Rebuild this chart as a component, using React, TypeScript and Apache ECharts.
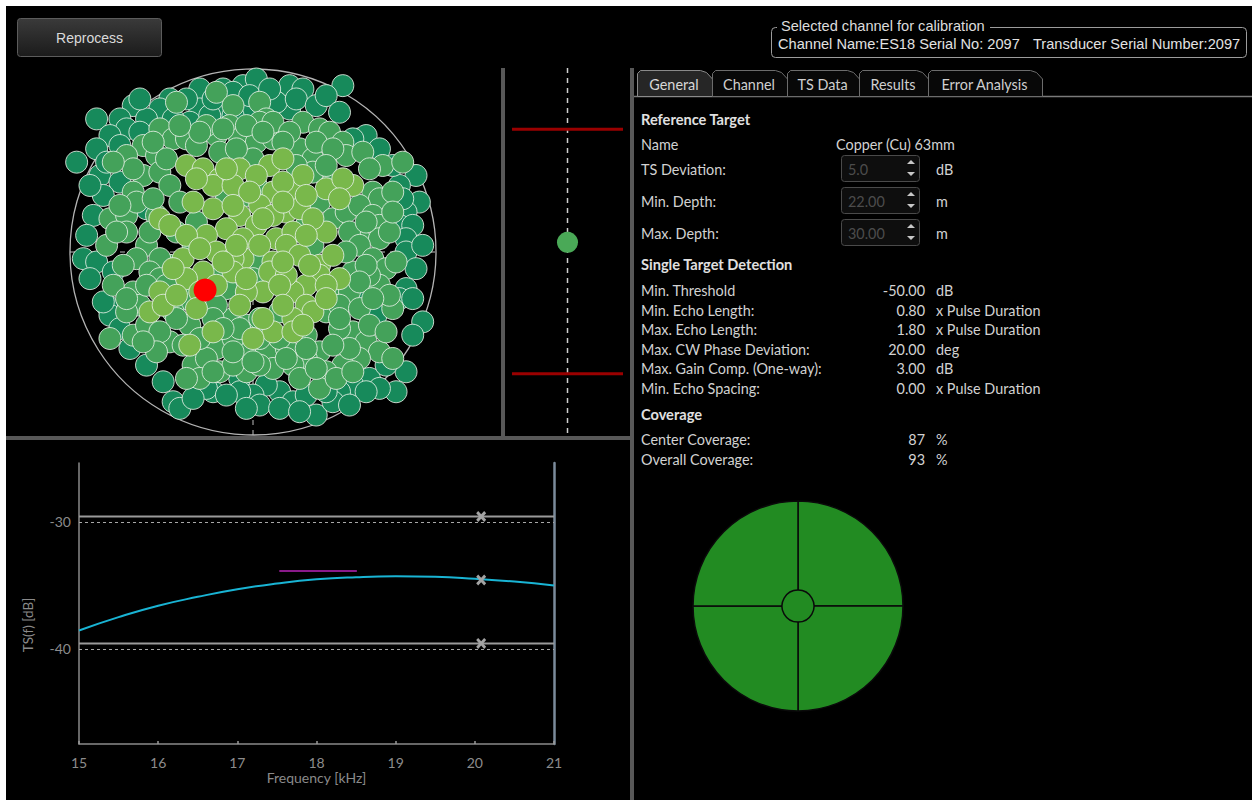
import React, { useEffect, useRef } from "react";
import * as echarts from "echarts";

// ---------- Beam-pattern targets (alongship / athwartship angle, degrees) ----------
const darkTargets: number[][] = [
  [-1.6, 4.9], [-0.9, 4.9], [-0.3, 5.0], [0.1, 5.2], [1.1, 5.0], [1.5, 4.9], [2.7, 5.0], [-0.6, 4.8],
  [-2.5, 4.6], [-3.6, 4.4], [-4.7, 4.0], [1.1, 4.3], [-0.2, 4.2], [-1.6, 4.3], [0.7, 4.5], [-1.0, 4.1],
  [-4.0, 4.0], [-2.8, 4.3], [-3.8, 3.7], [-1.9, 3.9], [-4.3, 3.5], [3.2, 3.4], [3.4, 3.5], [3.0, 3.4],
  [-1.3, 4.1], [-0.6, 4.1], [-4.7, 3.1], [-5.3, 2.7], [4.9, 2.3], [-4.6, 2.3], [-4.0, 2.1], [-4.5, 1.7],
  [5.0, 1.5], [4.4, 2.0], [-4.8, 1.1], [-3.2, 1.3], [4.6, 1.2], [4.4, 0.8], [4.8, 0.8], [4.6, 0.4],
  [-5.1, -0.2], [-4.7, -0.3], [-4.2, -0.6], [4.6, 0.0], [4.6, -1.1], [4.4, -1.4], [3.2, -1.2], [-4.4, -1.6],
  [-4.3, -1.9], [4.8, -1.4], [5.1, -2.1], [3.7, -1.9], [-4.5, -1.5], [-3.7, -2.9], [3.5, -3.8],
  [4.6, -3.6], [-0.4, -3.8], [4.3, -4.2], [3.0, -4.0], [2.6, -4.2], [0.8, -4.2], [0.4, -4.0], [0.0, -4.3],
  [-0.4, -4.2], [1.9, -4.9], [2.4, -4.5], [1.2, -4.5], [-1.2, -4.2], [-1.4, -4.1], [-0.8, -4.3], [-2.4, -4.5],
  [-2.2, -4.7], [1.6, -4.3], [0.2, -4.6], [0.8, -4.7], [2.2, -4.2], [3.8, -4.1], [3.4, -4.2],
  [-2.0, 4.6], [-1.2, 4.6], [-0.1, 4.7], [0.5, 4.9], [1.3, 4.6], [-3.2, 4.0], [-2.4, 4.0], [-3.4, 3.6],
  [-4.0, 3.2], [1.9, 4.4], [2.2, 4.7], [2.6, 4.2], [-5.0, 0.5], [-4.9, -0.8], [-4.0, -2.3], [-3.2, -3.4],
  [-2.7, -3.9], [-1.8, -4.4], [-0.2, -4.7], [1.4, -4.8], [2.9, -4.6], [4.0, -3.4], [4.8, -2.5], [4.9, -0.5],
  [5.1, 0.2], [4.2, 2.6], [3.8, 3.1], [4.5, 1.6], [-3.4, 4.6], [-4.9, 2.0], [-4.4, 2.7],
];
const midTargets: number[][] = [
  [-1.1, 4.8], [-2.3, 4.5], [0.2, 4.5], [-0.6, 4.4], [0.4, 4.0], [-0.7, 3.8], [-3.3, 3.2], [-2.8, 3.7],
  [-2.4, 3.4], [-1.1, 3.5], [-0.4, 3.4], [0.1, 3.3], [0.6, 3.4], [0.2, 3.9], [0.6, 3.9], [1.5, 3.9],
  [2.0, 3.7], [2.3, 3.6], [2.7, 3.3], [-1.4, 3.8], [-2.0, 3.4], [-3.8, 2.9], [-2.9, 2.9], [2.8, 2.9],
  [3.9, 2.6], [4.5, 2.7], [1.4, 3.1], [0.0, 2.8], [-1.0, 3.0], [-1.7, 3.2], [1.8, 2.8], [-3.3, 2.3],
  [-2.8, 2.4], [-2.5, 2.0], [3.6, 1.8], [3.8, 1.6], [4.2, 1.8], [2.4, 2.1], [1.8, 2.4], [0.1, 2.0],
  [-0.2, 1.7], [-0.8, 1.6], [-3.6, 1.8], [-2.2, 1.5], [-4.3, 1.0], [-1.7, 0.9], [2.0, 1.5], [2.4, 1.0],
  [2.8, 1.2], [3.2, 1.4], [3.6, 1.1], [3.8, 0.8], [-3.8, 1.1], [-3.5, 1.5], [-2.9, 1.1], [-2.3, 0.6],
  [-3.8, 0.6], [-4.4, 0.2], [-3.2, 0.2], [-1.8, 0.2], [3.2, 0.4], [3.8, 0.4], [4.1, 0.6], [2.9, 0.6],
  [1.6, 0.8], [-3.5, -0.2], [-2.5, -0.4], [-1.0, -0.6], [3.2, 0.2], [3.6, -0.2], [4.0, -0.5], [3.0, -0.6],
  [-2.8, -0.2], [1.8, 0.2], [0.2, -0.3], [0.0, -0.8], [-3.6, -1.2], [2.4, -1.2], [2.9, -1.2], [-0.8, -1.1],
  [3.8, -1.0], [3.5, -0.7], [-3.1, -0.6], [-4.2, -1.0], [-2.8, -0.8], [-3.4, -1.6], [-2.0, -1.4], [-2.4, -1.8],
  [-0.6, -2.0], [-0.2, -2.2], [0.2, -2.0], [2.2, -1.8], [2.6, -1.6], [4.2, -1.7], [-1.1, -1.6], [3.2, -1.7],
  [-1.2, -2.0], [-3.8, -1.8], [0.8, -1.8], [-4.3, -2.6], [-3.6, -2.5], [-3.2, -2.2], [-2.5, -2.7], [-1.9, -2.2],
  [-2.3, -2.0], [-1.3, -2.5], [-0.2, -3.0], [0.4, -3.0], [3.0, -2.4], [3.4, -2.7], [3.8, -3.0], [2.0, -3.0],
  [1.0, -2.9], [-1.1, -2.9], [-0.6, -2.6], [1.6, -2.5], [2.6, -2.3], [-2.8, -2.4], [-1.8, -3.4], [-1.4, -3.2],
  [-1.0, -3.6], [4.2, -3.2], [3.2, -3.2], [1.6, -3.2], [1.2, -3.4], [1.4, -3.8], [-0.2, -3.6], [0.6, -3.5],
  [0.2, -3.4], [2.7, -3.4], [2.2, -3.6], [-0.6, -3.4], [-1.6, -3.8], [2.0, -4.1],
  [-0.9, 3.7], [-0.2, 3.8], [1.1, 3.6], [1.9, 3.3], [2.4, 3.1], [-1.6, 3.6], [-2.2, 3.8], [-3.0, 3.3],
  [0.3, 3.6], [-0.5, 3.1], [0.9, 3.3], [3.3, 3.0], [3.5, 2.5], [-3.6, 2.5], [-4.2, 2.7], [-4.0, 1.4],
  [-3.0, 1.6], [-3.1, 0.6], [-4.1, 0.6], [-3.9, -0.4], [-3.2, -1.0], [-3.8, -1.4], [-2.6, -1.0], [3.4, 0.9],
  [4.2, 1.2], [4.3, -0.3], [3.4, -0.4], [2.8, 0.0], [3.2, -0.9], [4.1, -1.3], [3.6, -1.4], [2.6, -2.0],
  [3.5, -2.2], [4.0, -2.4], [2.9, -2.9], [2.4, -2.8], [1.6, -2.9], [0.8, -2.6], [0.2, -2.6], [-0.4, -2.3],
  [-0.9, -2.3], [-1.6, -2.6], [-2.1, -2.8], [-2.9, -3.0], [-3.3, -2.7], [-0.6, -3.0], [0.0, -3.3], [1.0, -3.2],
  [1.9, -3.5], [2.5, -3.8], [3.0, -3.6], [-1.2, -3.6], [-2.0, -3.8], [1.3, 2.6], [2.2, 2.6], [-2.6, 2.8],
];
const lightTargets: number[][] = [
  [-2.0, 2.6], [-1.5, 2.5], [-0.4, 2.5], [0.5, 2.6], [0.9, 2.8], [3.0, 2.0], [-1.0, 2.2], [1.2, 1.8],
  [0.6, 1.8], [-1.2, 2.0], [-0.6, 2.0], [2.2, 1.9], [2.7, 2.2], [-2.8, 1.0], [-0.4, 1.1], [1.0, 1.2],
  [1.4, 1.3], [-1.2, 1.3], [0.2, 1.4], [0.6, 1.1], [2.6, 1.6], [0.1, 0.8], [0.7, 0.4], [-0.8, 0.7],
  [-1.4, 0.5], [-0.3, 0.4], [1.2, 0.6], [2.2, 0.6], [-2.5, 0.8], [-1.5, -0.6], [-1.1, 0.0], [-0.3, -0.2],
  [0.2, 0.2], [1.0, 0.2], [1.4, -0.1], [2.0, -0.4], [-0.6, -0.2], [0.6, -0.3], [2.4, -0.1], [-2.1, -0.2],
  [0.5, -0.6], [2.0, -0.7], [1.6, -1.0], [1.2, -1.2], [0.3, -1.2], [-0.6, -0.6], [-2.0, -0.8], [-2.8, -1.2],
  [1.0, -0.7], [2.6, -0.8], [-0.2, -1.2], [-1.6, -1.2], [-3.1, -1.8], [1.6, -1.6], [1.8, -1.8], [1.2, -2.0],
  [0.6, -2.4], [-2.7, -1.6], [-1.7, -1.7], [-1.9, -2.8], [0.0, -2.6], [1.2, -2.4],
  [-1.7, 2.2], [-0.8, 2.5], [0.1, 2.3], [1.5, 2.3], [0.9, 2.1], [-0.1, 1.8], [1.6, 1.7], [0.9, 1.5],
  [-0.6, 1.4], [-1.8, 1.5], [1.8, 1.0], [1.6, 0.5], [0.3, 1.0], [-0.5, 0.2], [-2.0, 0.5], [-1.6, 0.1],
  [-0.9, -0.3], [0.9, -0.3], [1.7, -0.4], [2.2, -1.0], [0.8, -1.0], [-0.2, -0.8], [-1.1, -1.0], [-2.4, -0.5],
  [-2.3, -1.3], [-1.2, -2.4], [0.3, -2.0], [0.9, -1.6], [-0.4, -1.6], [1.5, -2.2], [2.2, -1.4],
];
const selectedTarget: number[][] = [[-1.44, -1.14]];
const beamHalfAngle = 5.5;

// ---------- Depth strip (m) ----------
const depthTarget: number[][] = [[0, 25.7]];
const depthLimits = [22, 30];
const depthRange = [20, 32];

// ---------- TS(f) chart ----------
const frequencies = [15, 15.5, 16, 16.5, 17, 17.5, 18, 18.5, 19, 19.5, 20, 20.5, 21];
const tsValues = [-38.55, -37.5, -36.6, -35.9, -35.3, -34.85, -34.52, -34.35, -34.28, -34.32, -34.48, -34.7, -35.0];
const tsMean = -34.57;
const tsDeviation = 5;
const markerFrequency = 20.08;
const sphereTsSegment = [[17.53, -33.86], [18.51, -33.86]];
const tsTickLabels = [-30, -40];
const tsRange = [-47.5, -25.35];
const freqRange = [15, 21];

// ---------- Coverage ----------
const coverageQuadrants = [25, 25, 25, 25];
const centerCoverage = [100];

// ---------- Text panel ----------
const tabNames = ["General", "Channel", "TS Data", "Results", "Error Analysis"];
const referenceName = ["Name", "Copper (Cu) 63mm"];
const spinRows = [
  ["TS Deviation:", "5.0", "dB"],
  ["Min. Depth:", "22.00", "m"],
  ["Max. Depth:", "30.00", "m"],
];
const detectionRows = [
  ["Min. Threshold", "-50.00", "dB"],
  ["Min. Echo Length:", "0.80", "x Pulse Duration"],
  ["Max. Echo Length:", "1.80", "x Pulse Duration"],
  ["Max. CW Phase Deviation:", "20.00", "deg"],
  ["Max. Gain Comp. (One-way):", "3.00", "dB"],
  ["Min. Echo Spacing:", "0.00", "x Pulse Duration"],
];
const coverageRows = [
  ["Center Coverage:", "87", "%"],
  ["Overall Coverage:", "93", "%"],
];

const FONT = "Lato";
const BASE = `14.4px ${FONT}`;

function txt(x: number, y: number, t: string, o: any = {}) {
  const align = o.align || "left";
  return {
    type: "text",
    x,
    y,
    rotation: o.rotation || 0,
    silent: true,
    z: 5,
    style: {
      text: t,
      fill: o.fill || "#d2d2d2",
      font: o.font || BASE,
      align,
      textAlign: align,
      verticalAlign: "middle",
      textVerticalAlign: "middle",
    },
  };
}

function buildGraphics() {
  const g: any[] = [];
  // page margin (white)
  g.push({ type: "rect", shape: { x: 0, y: 0, width: 1252, height: 6 }, style: { fill: "#ffffff" }, silent: true });
  g.push({ type: "rect", shape: { x: 0, y: 0, width: 6, height: 800 }, style: { fill: "#ffffff" }, silent: true });

  // Reprocess button
  g.push({
    type: "rect",
    shape: { x: 17.5, y: 18.5, width: 144, height: 38, r: 3 },
    style: {
      fill: new echarts.graphic.LinearGradient(0, 0, 0, 1, [
        { offset: 0, color: "#3a3a3a" },
        { offset: 1, color: "#1b1b1b" },
      ]),
      stroke: "#5c5c5c",
      lineWidth: 1,
    },
    silent: true,
  });
  g.push(txt(89.5, 37.5, "Reprocess", { align: "center", fill: "#dadada", font: `14px "Liberation Sans"` }));

  // group box
  g.push({ type: "rect", shape: { x: 771.5, y: 27.5, width: 475, height: 30, r: 4 }, style: { fill: "none", stroke: "#9c9c9c", lineWidth: 1 }, silent: true });
  g.push({ type: "rect", shape: { x: 777, y: 20, width: 213, height: 12 }, style: { fill: "#000" }, silent: true });
  g.push(txt(781, 26, "Selected channel for calibration", { fill: "#dcdcdc", font: `14.6px "Liberation Sans"` }));
  g.push(txt(778, 43.5, "Channel Name:ES18 Serial No: 2097", { fill: "#e2e2e2", font: `14.6px "Liberation Sans"` }));
  g.push(txt(1033, 43.5, "Transducer Serial Number:2097", { fill: "#e2e2e2", font: `14.6px "Liberation Sans"` }));

  // beam circle outline
  g.push({ type: "circle", shape: { cx: 253, cy: 252, r: 183 }, style: { fill: "none", stroke: "#b4b4b4", lineWidth: 1.3 }, silent: true, z: 0 });

  // splitters
  g.push({ type: "rect", shape: { x: 501, y: 68, width: 4, height: 370 }, style: { fill: "#585858" }, silent: true });
  g.push({ type: "rect", shape: { x: 6, y: 436, width: 626, height: 4 }, style: { fill: "#585858" }, silent: true });
  g.push({ type: "rect", shape: { x: 630, y: 68, width: 4, height: 732 }, style: { fill: "#585858" }, silent: true });

  // tabs
  const edges = [637, 712, 787, 859, 928, 1042];
  g.push({ type: "line", shape: { x1: 634, y1: 96.5, x2: 1252, y2: 96.5 }, style: { stroke: "#7a7a7a", lineWidth: 1.5 }, silent: true });
  tabNames.forEach((name, i) => {
    const x0 = edges[i] + 0.5;
    const x1 = edges[i + 1] + 0.5;
    const sel = i === 0;
    g.push({
      type: "polygon",
      shape: { points: [[x0, 96.5], [x0, 73.5], [x0 + 3, 70.5], [x1 - 12, 70.5], [x1 - 6, 72.5], [x1, 79], [x1, 96.5]] },
      style: { fill: sel ? "#262626" : "#080808", stroke: sel ? "#8a8a8a" : "#6c6c6c", lineWidth: 1 },
      silent: true,
    });
    g.push(txt((x0 + x1) / 2 - 1, 84, name, { align: "center", fill: sel ? "#d8d8d8" : "#cfcfcf" }));
  });

  // Reference target section
  const bold = `bold 14.6px ${FONT}`;
  g.push(txt(641, 119, "Reference Target", { font: bold, fill: "#e0e0e0" }));
  g.push(txt(641, 144, referenceName[0]));
  g.push(txt(836, 144, referenceName[1]));
  const spinY = [168, 200, 232];
  spinRows.forEach((r, i) => {
    const y = spinY[i];
    g.push(txt(641, y + 1, r[0]));
    g.push({ type: "rect", shape: { x: 841.5, y: y - 12.5, width: 78, height: 26, r: 3 }, style: { fill: "#0e0e0e", stroke: "#4a4a4a", lineWidth: 1 }, silent: true });
    g.push(txt(848, y + 1, r[1], { fill: "#4c4c4c" }));
    g.push({ type: "polygon", shape: { points: [[907, y - 4], [911, y - 8], [915, y - 4]] }, style: { fill: "#c8c8c8" }, silent: true });
    g.push({ type: "polygon", shape: { points: [[907, y + 4], [911, y + 8], [915, y + 4]] }, style: { fill: "#c8c8c8" }, silent: true });
    g.push(txt(936, y + 1, r[2]));
  });

  // detection section
  g.push(txt(641, 264, "Single Target Detection", { font: bold, fill: "#e0e0e0" }));
  const detY = [290.5, 310, 329.5, 349, 368.5, 388];
  detectionRows.forEach((r, i) => {
    g.push(txt(641, detY[i], r[0]));
    g.push(txt(925, detY[i], r[1], { align: "right" }));
    g.push(txt(936, detY[i], r[2]));
  });

  g.push(txt(641, 414, "Coverage", { font: bold, fill: "#e0e0e0" }));
  const covY = [439, 459];
  coverageRows.forEach((r, i) => {
    g.push(txt(641, covY[i], r[0]));
    g.push(txt(925, covY[i], r[1], { align: "right" }));
    g.push(txt(936, covY[i], r[2]));
  });

  // TS axis name
  g.push(txt(28, 625, "TS(f) [dB]", { align: "center", rotation: Math.PI / 2, fill: "#8a8a8a", font: `13.5px ${FONT}` }));
  return g;
}

const targetStyle = (color: string) => ({
  type: "scatter",
  xAxisIndex: 0,
  yAxisIndex: 0,
  symbolSize: 22,
  clip: false,
  silent: true,
  z: 3,
  itemStyle: { color, opacity: 1, borderColor: "rgba(228,238,228,0.85)", borderWidth: 1 },
});

function buildOption() {
  const solidLimit = (v: number) => ({
    type: "line",
    xAxisIndex: 2,
    yAxisIndex: 2,
    data: [[freqRange[0], v], [freqRange[1], v]],
    symbol: "none",
    silent: true,
    lineStyle: { color: "#9a9a9a", width: 2 },
    z: 3,
  });
  return {
    animation: false,
    backgroundColor: "#000",
    textStyle: { fontFamily: FONT },
    graphic: { elements: buildGraphics() },
    grid: [
      { left: 70, top: 69, width: 366, height: 366 },
      { left: 512, top: 68, width: 111, height: 367 },
      { left: 79, top: 463, width: 475, height: 281 },
    ],
    xAxis: [
      { gridIndex: 0, type: "value", min: -beamHalfAngle, max: beamHalfAngle, show: false },
      { gridIndex: 1, type: "value", min: -1, max: 1, show: false },
      {
        gridIndex: 2,
        type: "value",
        min: freqRange[0],
        max: freqRange[1],
        interval: 1,
        name: "Frequency [kHz]",
        nameLocation: "middle",
        nameGap: 26,
        nameTextStyle: { color: "#8a8a8a", fontSize: 14, fontFamily: FONT },
        axisLine: { show: true, lineStyle: { color: "#8a8a8a", width: 1.5 } },
        axisTick: { show: true, inside: true, length: 3, lineStyle: { color: "#9a9a9a", width: 1.5 } },
        axisLabel: { color: "#8c8c8c", fontSize: 14, margin: 11, fontFamily: FONT },
        splitLine: { show: false },
      },
    ],
    yAxis: [
      { gridIndex: 0, type: "value", min: -beamHalfAngle, max: beamHalfAngle, show: false },
      { gridIndex: 1, type: "value", min: depthRange[0], max: depthRange[1], inverse: true, show: false },
      {
        gridIndex: 2,
        type: "value",
        min: tsRange[0],
        max: tsRange[1],
        axisLine: { show: true, lineStyle: { color: "#8a8a8a", width: 1.5 } },
        axisTick: { show: false },
        axisLabel: { color: "#8c8c8c", fontSize: 14, margin: 8, customValues: tsTickLabels, fontFamily: FONT },
        splitLine: { show: false },
      },
      {
        gridIndex: 2,
        type: "value",
        position: "right",
        min: tsRange[0],
        max: tsRange[1],
        axisLine: { show: true, lineStyle: { color: "#7b8b9b", width: 2.5 } },
        axisTick: { show: false },
        axisLabel: { show: false },
        splitLine: { show: false },
      },
    ],
    series: [
      {
        type: "line", xAxisIndex: 0, yAxisIndex: 0, symbol: "none", silent: true, z: 1,
        data: [[-beamHalfAngle, 0], [beamHalfAngle, 0]],
        lineStyle: { color: "#bdbdbd", width: 1, type: [5, 5] },
      },
      {
        type: "line", xAxisIndex: 0, yAxisIndex: 0, symbol: "none", silent: true, z: 1,
        data: [[0, -beamHalfAngle], [0, beamHalfAngle]],
        lineStyle: { color: "#bdbdbd", width: 1, type: [5, 5] },
      },
      { ...targetStyle("#178a5b"), data: darkTargets },
      { ...targetStyle("#44a25a"), data: midTargets },
      { ...targetStyle("#79b84b"), data: lightTargets },
      {
        type: "scatter", xAxisIndex: 0, yAxisIndex: 0, data: selectedTarget, symbolSize: 23, clip: false, silent: true, z: 4,
        itemStyle: { color: "#ff0000", opacity: 1 },
      },
      // depth strip
      {
        type: "line", xAxisIndex: 1, yAxisIndex: 1, symbol: "none", silent: true, z: 1,
        data: [[0, depthRange[0]], [0, depthRange[1]]],
        lineStyle: { color: "#cfcfcf", width: 1.5, type: [5, 5] },
      },
      ...depthLimits.map((d) => ({
        type: "line", xAxisIndex: 1, yAxisIndex: 1, symbol: "none", silent: true, z: 2,
        data: [[-1, d], [1, d]],
        lineStyle: { color: "#9a0000", width: 3 },
      })),
      {
        type: "scatter", xAxisIndex: 1, yAxisIndex: 1, data: depthTarget, symbolSize: 21, silent: true, z: 3,
        itemStyle: { color: "#4aa957", opacity: 1 },
      },
      // TS chart
      {
        ...solidLimit(tsMean + tsDeviation),
        markLine: {
          silent: true,
          symbol: "none",
          label: { show: false },
          lineStyle: { color: "#a8a8a8", width: 1, type: [3, 3] },
          data: tsTickLabels.map((v) => ({ yAxis: v })),
        },
      },
      solidLimit(tsMean - tsDeviation),
      {
        type: "line", xAxisIndex: 2, yAxisIndex: 2, symbol: "none", silent: true, smooth: true, z: 4,
        data: frequencies.map((f, i) => [f, tsValues[i]]),
        lineStyle: { color: "#19b4d4", width: 2 },
      },
      {
        type: "line", xAxisIndex: 2, yAxisIndex: 2, symbol: "none", silent: true, z: 4,
        data: sphereTsSegment,
        lineStyle: { color: "#8a1a8a", width: 2 },
      },
      {
        type: "scatter", xAxisIndex: 2, yAxisIndex: 2, silent: true, z: 5,
        symbol: "path://M0,2 L2,0 L5,3 L8,0 L10,2 L7,5 L10,8 L8,10 L5,7 L2,10 L0,8 L3,5 Z",
        symbolSize: [10, 11],
        itemStyle: { color: "#a3a3a3", opacity: 1 },
        data: [tsMean + tsDeviation, tsMean, tsMean - tsDeviation].map((v) => [markerFrequency, v]),
      },
      // coverage
      {
        type: "pie", center: [798, 606], radius: [0, 105], startAngle: 90, silent: true, z: 2,
        label: { show: false }, labelLine: { show: false },
        itemStyle: { color: "#228b22", borderColor: "#0a0a0a", borderWidth: 1.5 },
        data: coverageQuadrants.map((v, i) => ({ name: `Q${i + 1}`, value: v })),
      },
      {
        type: "pie", center: [798, 606], radius: [0, 16], silent: true, z: 3,
        label: { show: false }, labelLine: { show: false },
        itemStyle: { color: "#228b22", borderColor: "#0a0a0a", borderWidth: 1.5 },
        data: centerCoverage.map((v) => ({ name: "Center", value: v })),
      },
    ],
  };
}

export default function App() {
  const ref = useRef<HTMLDivElement>(null);
  useEffect(() => {
    if (!ref.current) return;
    const chart = echarts.init(ref.current, null, { renderer: "svg" });
    chart.setOption(buildOption() as any);
    return () => chart.dispose();
  }, []);
  return (
    <div
      ref={ref}
      style={{ position: "absolute", left: 0, top: 0, width: 1252, height: 800 }}
    />
  );
}
